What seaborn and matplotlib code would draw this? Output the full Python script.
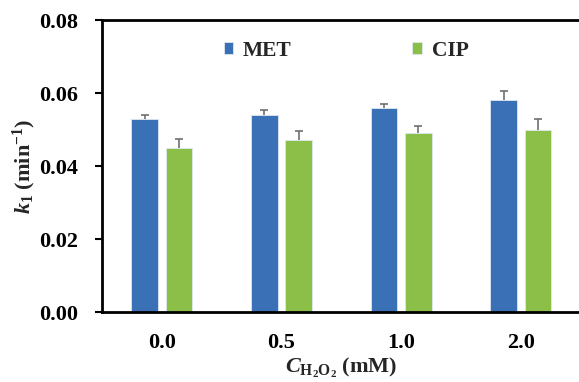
import matplotlib
matplotlib.use("Agg")
import matplotlib.pyplot as plt
import seaborn as sns
import pandas as pd
import numpy as np

# Pseudo-first-order rate constants at different H2O2 doses
doses = ["0.0", "0.5", "1.0", "2.0"]
met_k = [0.053, 0.054, 0.056, 0.058]
cip_k = [0.045, 0.047, 0.049, 0.050]
met_err = [0.0010, 0.0014, 0.0010, 0.0026]
cip_err = [0.0024, 0.0025, 0.0021, 0.0030]

sns.set_theme(style="white")
plt.rcParams["font.family"] = ["Liberation Serif", "DejaVu Serif"]
plt.rcParams["font.weight"] = "bold"
plt.rcParams["mathtext.fontset"] = "custom"
plt.rcParams["mathtext.rm"] = "Liberation Serif:bold"
plt.rcParams["mathtext.it"] = "Liberation Serif:italic:bold"
plt.rcParams["mathtext.bf"] = "Liberation Serif:bold"

df = pd.DataFrame({
    "dose": doses * 2,
    "k": met_k + cip_k,
    "err": met_err + cip_err,
    "compound": ["MET"] * len(doses) + ["CIP"] * len(doses),
})

fig = plt.figure(figsize=(5.79, 3.82), dpi=100)
ax = fig.add_axes([0.1762, 0.1832, 0.8268, 0.7644])

palette = {"MET": "#3A71B6", "CIP": "#8BBF47"}
sns.barplot(data=df, x="dose", y="k", hue="compound", palette=palette,
            errorbar=None, width=0.573, gap=0.22, saturation=1,
            edgecolor="#dfe8f2", linewidth=0.6, ax=ax)

# upper-only error bars placed on each bar (lower caps removed)
for cont, errs in zip(list(ax.containers), [met_err, cip_err]):
    xs = [p.get_x() + p.get_width() / 2 for p in cont.patches]
    hs = [p.get_height() for p in cont.patches]
    eb = ax.errorbar(xs, hs, yerr=[np.zeros(len(errs)), errs], fmt="none",
                     ecolor="#6f6f6f", elinewidth=1.2, capsize=2.6,
                     capthick=1.2)
    for cap in eb[1]:
        if np.allclose(cap.get_ydata(), hs):
            cap.remove()

ax.set_xlim(-0.5, 3.5)
ax.set_ylim(0, 0.08)
ax.set_yticks([0, 0.02, 0.04, 0.06, 0.08])
ax.set_yticklabels([f"{v:.2f}" for v in [0, 0.02, 0.04, 0.06, 0.08]])

for s in ["left", "bottom", "top"]:
    ax.spines[s].set_color("black")
    ax.spines[s].set_linewidth(2)
ax.spines["right"].set_visible(False)

ax.tick_params(axis="y", which="both", left=True, direction="out",
               length=5, width=1.5, labelsize=16, pad=12.5, colors="black")
ax.tick_params(axis="x", bottom=False, length=0, labelsize=16, pad=15,
               colors="black")
for lbl in ax.get_xticklabels() + ax.get_yticklabels():
    lbl.set_fontweight("bold")

ax.set_xlabel(r"$C_{\mathrm{H_2O_2}}$ (mM)", fontsize=16, fontweight="bold")
ax.set_ylabel(r"$k_{\mathit{1}}$ (min$^{-1}$)", fontsize=16,
              fontweight="bold")
ax.xaxis.label.set_va("center")
ax.yaxis.label.set_va("center")
ax.xaxis.set_label_coords(0.499, -0.192)
ax.yaxis.set_label_coords(-0.163, 0.5)

ax.legend(loc="center", bbox_to_anchor=(0.51, 0.895), ncol=2,
          frameon=False, prop={"weight": "bold", "size": 15.5},
          handlelength=0.45, handleheight=0.45, handletextpad=0.45,
          columnspacing=5.6)

fig.savefig("out.png", dpi=100)
